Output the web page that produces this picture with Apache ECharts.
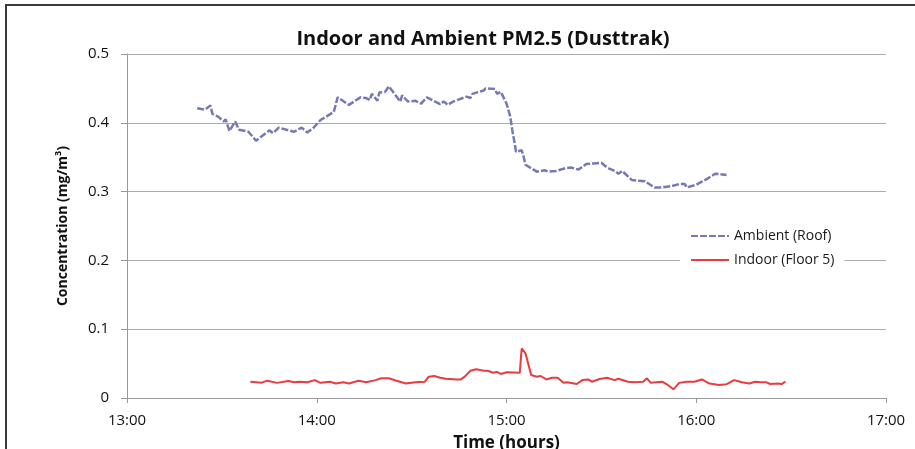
<!DOCTYPE html>
<html>
<head>
<meta charset="utf-8">
<script src="https://cdn.jsdelivr.net/npm/echarts@6/dist/echarts.min.js"></script>
<style>
  html, body { margin: 0; padding: 0; background: #fff; }
  #chart { width: 915px; height: 449px; }
</style>
</head>
<body>
<div id="chart"></div>
<script>
// time in decimal hours, values in mg/m3
const ambientTime = [13.37, 13.41, 13.44, 13.45, 13.48, 13.51, 13.52, 13.54, 13.57, 13.59, 13.64, 13.68, 13.75, 13.77, 13.80,
  13.88, 13.92, 13.95, 13.98, 14.02, 14.05, 14.09, 14.11, 14.17, 14.23, 14.26, 14.28, 14.29, 14.32, 14.33, 14.36, 14.38,
  14.44, 14.45, 14.48, 14.52, 14.55, 14.58, 14.65, 14.67, 14.69, 14.72, 14.79, 14.81, 14.82, 14.88, 14.89, 14.94, 14.95,
  14.97, 15.00, 15.02, 15.03, 15.04, 15.05, 15.08, 15.09, 15.10, 15.13, 15.16, 15.20, 15.22, 15.23, 15.26, 15.31, 15.34,
  15.38, 15.42, 15.46, 15.50, 15.53, 15.57, 15.59, 15.61, 15.64, 15.66, 15.69, 15.73, 15.78, 15.82, 15.87, 15.91, 15.94,
  15.95, 16.00, 16.02, 16.06, 16.10, 16.16];
const ambientValues = [0.421, 0.419, 0.425, 0.413, 0.409, 0.402, 0.405, 0.388, 0.402, 0.390, 0.387, 0.374, 0.389, 0.385, 0.393,
  0.387, 0.393, 0.386, 0.392, 0.404, 0.409, 0.416, 0.437, 0.426, 0.437, 0.436, 0.433, 0.442, 0.432, 0.444, 0.445, 0.453,
  0.431, 0.440, 0.431, 0.432, 0.428, 0.437, 0.427, 0.431, 0.426, 0.431, 0.438, 0.436, 0.442, 0.447, 0.450, 0.449, 0.442,
  0.445, 0.428, 0.409, 0.390, 0.375, 0.358, 0.360, 0.351, 0.339, 0.334, 0.329, 0.331, 0.329, 0.331, 0.330, 0.334, 0.335,
  0.332, 0.340, 0.341, 0.342, 0.335, 0.330, 0.326, 0.330, 0.322, 0.317, 0.316, 0.315, 0.306, 0.306, 0.308, 0.311, 0.311,
  0.306, 0.310, 0.313, 0.319, 0.326, 0.324];

const indoorTime = [13.65, 13.71, 13.74, 13.79, 13.85, 13.88, 13.91, 13.95, 13.99, 14.02, 14.07, 14.10, 14.14, 14.17, 14.22,
  14.26, 14.31, 14.34, 14.38, 14.42, 14.47, 14.52, 14.57, 14.59, 14.62, 14.65, 14.68, 14.74, 14.76, 14.78, 14.81, 14.84,
  14.88, 14.89, 14.90, 14.93, 14.95, 14.97, 15.00, 15.07, 15.08, 15.10, 15.13, 15.16, 15.18, 15.21, 15.24, 15.27, 15.30,
  15.32, 15.37, 15.40, 15.43, 15.45, 15.49, 15.53, 15.57, 15.59, 15.64, 15.68, 15.72, 15.74, 15.76, 15.82, 15.85, 15.88,
  15.91, 15.95, 15.99, 16.03, 16.07, 16.12, 16.16, 16.20, 16.24, 16.28, 16.31, 16.34, 16.37, 16.39, 16.43, 16.45, 16.47];
const indoorValues = [0.0237, 0.0223, 0.0252, 0.0220, 0.0247, 0.0228, 0.0237, 0.0228, 0.0260, 0.0220, 0.0237, 0.0210, 0.0228,
  0.0210, 0.0250, 0.0228, 0.0260, 0.0286, 0.0286, 0.0250, 0.0210, 0.0228, 0.0237, 0.0310, 0.0320, 0.0295, 0.0280, 0.0270,
  0.0270, 0.0310, 0.0397, 0.0417, 0.0397, 0.0368, 0.0397, 0.0368, 0.0380, 0.0350, 0.0373, 0.0368, 0.0720, 0.0650, 0.0334,
  0.0310, 0.0320, 0.0270, 0.0295, 0.0295, 0.0220, 0.0228, 0.0203, 0.0260, 0.0270, 0.0237, 0.0276, 0.0295, 0.0260, 0.0280,
  0.0237, 0.0228, 0.0237, 0.0286, 0.0220, 0.0237, 0.0190, 0.0126, 0.0220, 0.0237, 0.0237, 0.0270, 0.0210, 0.0190, 0.0200,
  0.0260, 0.0228, 0.0210, 0.0237, 0.0228, 0.0228, 0.0203, 0.0210, 0.0203, 0.0237];

const yTicks = [0, 0.1, 0.2, 0.3, 0.4, 0.5];

const font = "'Open Sans', sans-serif";
const pair = (t, v) => t.map((x, i) => [x, v[i]]);

const chart = echarts.init(document.getElementById("chart"));
const option = {
  animation: false,
  backgroundColor: "#fff",
  title: {
    text: "Indoor and Ambient PM2.5 (Dusttrak)",
    left: 478,
    textAlign: "center",
    top: 24,
    textStyle: { fontFamily: font, fontWeight: "bold", fontSize: 20, color: "#111" },
  },
  grid: { left: 127, right: 29, top: 54, bottom: 51, outerBoundsMode: "none" },
  legend: {
    orient: "vertical",
    left: 680,
    top: 226,
    itemWidth: 38,
    itemHeight: 10,
    itemGap: 10,
    padding: [3, 10, 3, 10],
    backgroundColor: "#fff",
    itemStyle: { opacity: 0 },
    textStyle: { fontFamily: font, fontSize: 14, color: "#1a1a1a" },
    data: ["Ambient (Roof)", "Indoor (Floor 5)"],
  },
  xAxis: {
    type: "value",
    min: 13,
    max: 17,
    interval: 1,
    name: "Time (hours)",
    nameLocation: "middle",
    nameGap: 37,
    nameTextStyle: { fontFamily: font, fontWeight: "bold", fontSize: 17, color: "#111" },
    axisLine: { lineStyle: { color: "#999", width: 1 } },
    axisTick: { show: true, length: 5, lineStyle: { color: "#999" } },
    splitLine: { show: false },
    axisLabel: {
      margin: 15,
      fontFamily: font,
      fontSize: 15,
      color: "#111",
      formatter: v => v + ":00",
    },
  },
  yAxis: {
    type: "value",
    min: 0,
    max: 0.5,
    interval: 0.1,
    name: "Concentration (mg/m³)",
    nameLocation: "middle",
    nameGap: 57,
    nameTextStyle: { fontFamily: font, fontWeight: "bold", fontSize: 14, color: "#111" },
    axisLine: { show: true, lineStyle: { color: "#999", width: 1 } },
    axisTick: { show: true, length: 6, lineStyle: { color: "#999" } },
    splitLine: { lineStyle: { color: "#aaa", width: 1.2 } },
    axisLabel: {
      margin: 18,
      fontFamily: font,
      fontSize: 15,
      color: "#111",
      formatter: v => (yTicks.includes(+v.toFixed(1)) ? String(+v.toFixed(1)) : ""),
    },
  },
  graphic: [
    {
      type: "polyline",
      shape: { points: [[6, 449], [6, 5], [915, 5]] },
      style: { stroke: "#3a3a3a", lineWidth: 2, fill: null },
      silent: true,
    },
  ],
  series: [
    {
      name: "Ambient (Roof)",
      type: "line",
      data: pair(ambientTime, ambientValues),
      symbol: "none",
      lineStyle: { color: "#7679b3", width: 2.5, type: [7, 2] },
      itemStyle: { color: "#7679b3" },
    },
    {
      name: "Indoor (Floor 5)",
      type: "line",
      data: pair(indoorTime, indoorValues),
      symbol: "none",
      lineStyle: { color: "#e83c3f", width: 2 },
      itemStyle: { color: "#e83c3f" },
    },
  ],
};
chart.setOption(option);
</script>
</body>
</html>
